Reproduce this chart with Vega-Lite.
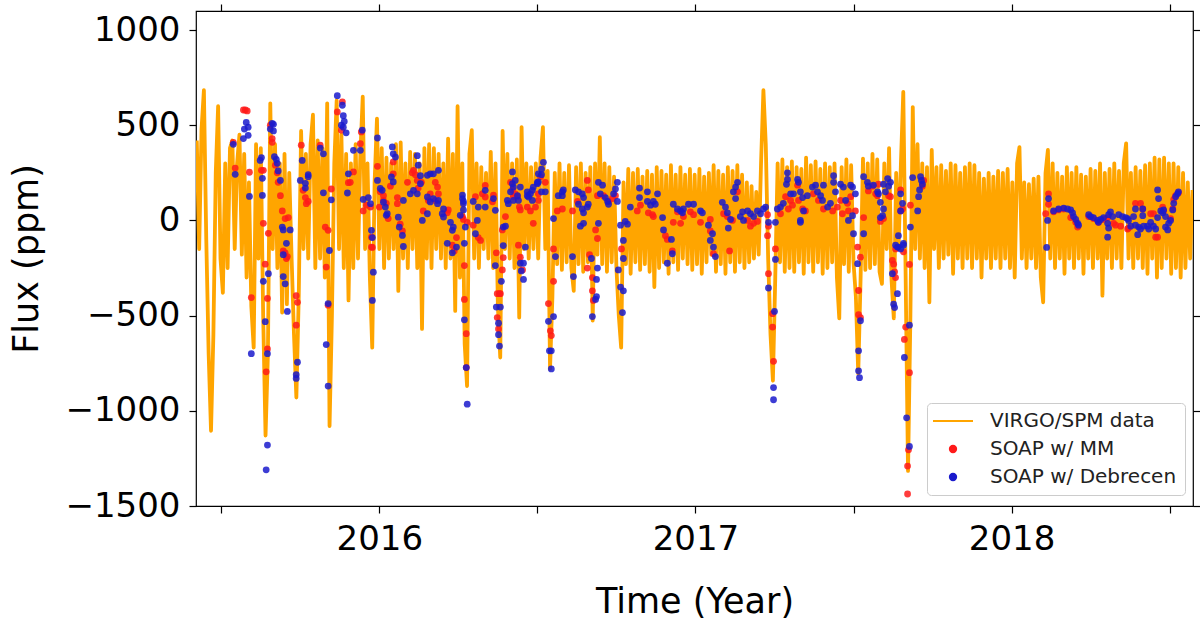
{
  "$schema": "https://vega.github.io/schema/vega-lite/v6.json",
  "width": 997,
  "height": 495,
  "autosize": {"type": "none"},
  "padding": {"left": 196, "top": 11, "right": 7, "bottom": 114},
  "background": "white",
  "config": {
    "font": "DejaVu Sans",
    "view": {"stroke": "black", "strokeWidth": 1.2},
    "axis": {
      "labelFont": "DejaVu Sans", "labelFontSize": 34, "labelColor": "black",
      "titleFont": "DejaVu Sans", "titleFontSize": 35, "titleFontWeight": "normal", "titleColor": "black",
      "tickColor": "black", "tickSize": 7, "tickWidth": 1.2, "domain": false, "grid": false
    },
    "legend": {"labelFont": "DejaVu Sans"}
  },
  "datasets": {
    "virgo": [
      {"t":2015.4225,"f":420},{"t":2015.4300,"f":-150},{"t":2015.4375,"f":480},{"t":2015.4450,"f":684},{"t":2015.4525,"f":-100},{"t":2015.4600,"f":-700},{"t":2015.4675,"f":-1105},{"t":2015.4750,"f":-600},{"t":2015.4825,"f":250},{"t":2015.4900,"f":600},{"t":2015.4975,"f":-200},{"t":2015.5050,"f":-380},{"t":2015.5125,"f":300},{"t":2015.5200,"f":-250},{"t":2015.5275,"f":380},{"t":2015.5350,"f":420},{"t":2015.5425,"f":-150},{"t":2015.5500,"f":300},{"t":2015.5575,"f":450},{"t":2015.5650,"f":-180},{"t":2015.5725,"f":350},{"t":2015.5800,"f":-300},{"t":2015.5875,"f":200},{"t":2015.5950,"f":-450},{"t":2015.6025,"f":-668},{"t":2015.6100,"f":400},{"t":2015.6175,"f":-200},{"t":2015.6250,"f":380},{"t":2015.6325,"f":-500},{"t":2015.6400,"f":-1130},{"t":2015.6475,"f":-700},{"t":2015.6550,"f":615},{"t":2015.6625,"f":-150},{"t":2015.6700,"f":400},{"t":2015.6775,"f":-250},{"t":2015.6850,"f":300},{"t":2015.6925,"f":-484},{"t":2015.7000,"f":350},{"t":2015.7075,"f":-440},{"t":2015.7150,"f":250},{"t":2015.7225,"f":-200},{"t":2015.7300,"f":-600},{"t":2015.7375,"f":-930},{"t":2015.7450,"f":-400},{"t":2015.7525,"f":470},{"t":2015.7600,"f":-150},{"t":2015.7675,"f":350},{"t":2015.7750,"f":-200},{"t":2015.7825,"f":400},{"t":2015.7900,"f":555},{"t":2015.7975,"f":-250},{"t":2015.8050,"f":420},{"t":2015.8125,"f":-200},{"t":2015.8200,"f":380},{"t":2015.8275,"f":-300},{"t":2015.8350,"f":615},{"t":2015.8425,"f":-1080},{"t":2015.8500,"f":-500},{"t":2015.8575,"f":300},{"t":2015.8650,"f":630},{"t":2015.8725,"f":-150},{"t":2015.8800,"f":450},{"t":2015.8875,"f":-250},{"t":2015.8950,"f":350},{"t":2015.9025,"f":-420},{"t":2015.9100,"f":300},{"t":2015.9175,"f":-250},{"t":2015.9250,"f":400},{"t":2015.9325,"f":-200},{"t":2015.9400,"f":350},{"t":2015.9475,"f":650},{"t":2015.9550,"f":-150},{"t":2015.9625,"f":300},{"t":2015.9700,"f":-300},{"t":2015.9775,"f":-668},{"t":2015.9850,"f":200},{"t":2015.9925,"f":535},
      {"t":2016.0000,"f":-150},{"t":2016.0075,"f":380},{"t":2016.0150,"f":-250},{"t":2016.0225,"f":330},{"t":2016.0300,"f":-200},{"t":2016.0375,"f":300},{"t":2016.0450,"f":-150},{"t":2016.0525,"f":400},{"t":2016.0600,"f":-370},{"t":2016.0675,"f":410},{"t":2016.0750,"f":-200},{"t":2016.0825,"f":300},{"t":2016.0900,"f":-250},{"t":2016.0975,"f":360},{"t":2016.1050,"f":-150},{"t":2016.1125,"f":350},{"t":2016.1200,"f":-250},{"t":2016.1275,"f":300},{"t":2016.1350,"f":-570},{"t":2016.1425,"f":380},{"t":2016.1500,"f":-200},{"t":2016.1575,"f":400},{"t":2016.1650,"f":-250},{"t":2016.1725,"f":380},{"t":2016.1800,"f":-150},{"t":2016.1875,"f":350},{"t":2016.1950,"f":-200},{"t":2016.2025,"f":300},{"t":2016.2100,"f":-250},{"t":2016.2175,"f":430},{"t":2016.2250,"f":-200},{"t":2016.2325,"f":350},{"t":2016.2400,"f":-475},{"t":2016.2475,"f":600},{"t":2016.2550,"f":-300},{"t":2016.2625,"f":300},{"t":2016.2700,"f":-650},{"t":2016.2775,"f":-870},{"t":2016.2850,"f":350},{"t":2016.2925,"f":474},{"t":2016.3000,"f":-200},{"t":2016.3075,"f":300},{"t":2016.3150,"f":-250},{"t":2016.3225,"f":280},{"t":2016.3300,"f":-150},{"t":2016.3375,"f":250},{"t":2016.3450,"f":-200},{"t":2016.3525,"f":360},{"t":2016.3600,"f":-250},{"t":2016.3675,"f":300},{"t":2016.3750,"f":-450},{"t":2016.3825,"f":-720},{"t":2016.3900,"f":470},{"t":2016.3975,"f":-150},{"t":2016.4050,"f":350},{"t":2016.4125,"f":-200},{"t":2016.4200,"f":300},{"t":2016.4275,"f":-250},{"t":2016.4350,"f":320},{"t":2016.4425,"f":-510},{"t":2016.4500,"f":490},{"t":2016.4575,"f":-150},{"t":2016.4650,"f":300},{"t":2016.4725,"f":-200},{"t":2016.4800,"f":280},{"t":2016.4875,"f":-150},{"t":2016.4950,"f":300},{"t":2016.5025,"f":-200},{"t":2016.5100,"f":330},{"t":2016.5175,"f":490},{"t":2016.5250,"f":-150},{"t":2016.5325,"f":260},{"t":2016.5400,"f":-780},{"t":2016.5475,"f":-400},{"t":2016.5550,"f":250},{"t":2016.5625,"f":-230},{"t":2016.5700,"f":300},{"t":2016.5775,"f":-260},{"t":2016.5850,"f":250},{"t":2016.5925,"f":-220},{"t":2016.6000,"f":290},{"t":2016.6075,"f":-250},{"t":2016.6150,"f":-370},{"t":2016.6225,"f":280},{"t":2016.6300,"f":-230},{"t":2016.6375,"f":300},{"t":2016.6450,"f":-270},{"t":2016.6525,"f":250},{"t":2016.6600,"f":-220},{"t":2016.6675,"f":280},{"t":2016.6750,"f":-526},{"t":2016.6825,"f":300},{"t":2016.6900,"f":-180},{"t":2016.6975,"f":437},{"t":2016.7050,"f":-230},{"t":2016.7125,"f":300},{"t":2016.7200,"f":-270},{"t":2016.7275,"f":280},{"t":2016.7350,"f":-220},{"t":2016.7425,"f":230},{"t":2016.7500,"f":-250},{"t":2016.7575,"f":-500},{"t":2016.7650,"f":-668},{"t":2016.7725,"f":200},{"t":2016.7800,"f":-230},{"t":2016.7875,"f":270},{"t":2016.7950,"f":-280},{"t":2016.8025,"f":250},{"t":2016.8100,"f":-220},{"t":2016.8175,"f":270},{"t":2016.8250,"f":-260},{"t":2016.8325,"f":230},{"t":2016.8400,"f":-230},{"t":2016.8475,"f":260},{"t":2016.8550,"f":-270},{"t":2016.8625,"f":240},{"t":2016.8700,"f":-350},{"t":2016.8775,"f":280},{"t":2016.8850,"f":-250},{"t":2016.8925,"f":260},{"t":2016.9000,"f":-220},{"t":2016.9075,"f":240},{"t":2016.9150,"f":-280},{"t":2016.9225,"f":290},{"t":2016.9300,"f":-220},{"t":2016.9375,"f":240},{"t":2016.9450,"f":-260},{"t":2016.9525,"f":280},{"t":2016.9600,"f":-200},{"t":2016.9675,"f":240},{"t":2016.9750,"f":-230},{"t":2016.9825,"f":270},{"t":2016.9900,"f":-260},{"t":2016.9975,"f":240},
      {"t":2017.0050,"f":-230},{"t":2017.0125,"f":270},{"t":2017.0200,"f":-280},{"t":2017.0275,"f":230},{"t":2017.0350,"f":-220},{"t":2017.0425,"f":250},{"t":2017.0500,"f":-180},{"t":2017.0575,"f":290},{"t":2017.0650,"f":-270},{"t":2017.0725,"f":260},{"t":2017.0800,"f":-230},{"t":2017.0875,"f":240},{"t":2017.0950,"f":-280},{"t":2017.1025,"f":280},{"t":2017.1100,"f":-220},{"t":2017.1175,"f":260},{"t":2017.1250,"f":-270},{"t":2017.1325,"f":290},{"t":2017.1400,"f":-220},{"t":2017.1475,"f":240},{"t":2017.1550,"f":-250},{"t":2017.1625,"f":200},{"t":2017.1700,"f":-220},{"t":2017.1775,"f":180},{"t":2017.1850,"f":-200},{"t":2017.1925,"f":150},{"t":2017.2000,"f":-180},{"t":2017.2075,"f":300},{"t":2017.2150,"f":684},{"t":2017.2225,"f":400},{"t":2017.2300,"f":-200},{"t":2017.2375,"f":-600},{"t":2017.2450,"f":-842},{"t":2017.2525,"f":-300},{"t":2017.2600,"f":300},{"t":2017.2675,"f":-220},{"t":2017.2750,"f":320},{"t":2017.2825,"f":-270},{"t":2017.2900,"f":280},{"t":2017.2975,"f":-250},{"t":2017.3050,"f":310},{"t":2017.3125,"f":-270},{"t":2017.3200,"f":280},{"t":2017.3275,"f":-220},{"t":2017.3350,"f":270},{"t":2017.3425,"f":-280},{"t":2017.3500,"f":330},{"t":2017.3575,"f":-220},{"t":2017.3650,"f":290},{"t":2017.3725,"f":-270},{"t":2017.3800,"f":310},{"t":2017.3875,"f":-220},{"t":2017.3950,"f":270},{"t":2017.4025,"f":-280},{"t":2017.4100,"f":300},{"t":2017.4175,"f":-250},{"t":2017.4250,"f":280},{"t":2017.4325,"f":-220},{"t":2017.4400,"f":300},{"t":2017.4475,"f":-300},{"t":2017.4550,"f":-515},{"t":2017.4625,"f":280},{"t":2017.4700,"f":-230},{"t":2017.4775,"f":320},{"t":2017.4850,"f":-270},{"t":2017.4925,"f":290},{"t":2017.5000,"f":-220},{"t":2017.5075,"f":-400},{"t":2017.5150,"f":-805},{"t":2017.5225,"f":-300},{"t":2017.5300,"f":325},{"t":2017.5375,"f":-260},{"t":2017.5450,"f":300},{"t":2017.5525,"f":-250},{"t":2017.5600,"f":350},{"t":2017.5675,"f":-230},{"t":2017.5750,"f":320},{"t":2017.5825,"f":-270},{"t":2017.5900,"f":-333},{"t":2017.5975,"f":300},{"t":2017.6050,"f":-150},{"t":2017.6125,"f":380},{"t":2017.6200,"f":-300},{"t":2017.6275,"f":-515},{"t":2017.6350,"f":250},{"t":2017.6425,"f":-150},{"t":2017.6500,"f":300},{"t":2017.6575,"f":675},{"t":2017.6650,"f":-300},{"t":2017.6725,"f":-1316},{"t":2017.6800,"f":-500},{"t":2017.6875,"f":595},{"t":2017.6950,"f":-150},{"t":2017.7025,"f":400},{"t":2017.7100,"f":-200},{"t":2017.7175,"f":300},{"t":2017.7250,"f":-250},{"t":2017.7325,"f":280},{"t":2017.7400,"f":-430},{"t":2017.7475,"f":370},{"t":2017.7550,"f":-150},{"t":2017.7625,"f":280},{"t":2017.7700,"f":-250},{"t":2017.7775,"f":290},{"t":2017.7850,"f":-200},{"t":2017.7925,"f":260},{"t":2017.8000,"f":-180},{"t":2017.8075,"f":300},{"t":2017.8150,"f":-280},{"t":2017.8225,"f":290},{"t":2017.8300,"f":-200},{"t":2017.8375,"f":250},{"t":2017.8450,"f":-250},{"t":2017.8525,"f":280},{"t":2017.8600,"f":-200},{"t":2017.8675,"f":300},{"t":2017.8750,"f":-250},{"t":2017.8825,"f":290},{"t":2017.8900,"f":-200},{"t":2017.8975,"f":250},{"t":2017.9050,"f":-300},{"t":2017.9125,"f":220},{"t":2017.9200,"f":-200},{"t":2017.9275,"f":250},{"t":2017.9350,"f":-250},{"t":2017.9425,"f":230},{"t":2017.9500,"f":-200},{"t":2017.9575,"f":260},{"t":2017.9650,"f":-250},{"t":2017.9725,"f":250},{"t":2017.9800,"f":-200},{"t":2017.9875,"f":270},{"t":2017.9950,"f":-250},
      {"t":2018.0025,"f":200},{"t":2018.0100,"f":-300},{"t":2018.0175,"f":300},{"t":2018.0250,"f":385},{"t":2018.0325,"f":-200},{"t":2018.0400,"f":200},{"t":2018.0475,"f":-250},{"t":2018.0550,"f":190},{"t":2018.0625,"f":-200},{"t":2018.0700,"f":220},{"t":2018.0775,"f":-250},{"t":2018.0850,"f":230},{"t":2018.0925,"f":-300},{"t":2018.1000,"f":-430},{"t":2018.1075,"f":250},{"t":2018.1150,"f":370},{"t":2018.1225,"f":-200},{"t":2018.1300,"f":300},{"t":2018.1375,"f":-250},{"t":2018.1450,"f":250},{"t":2018.1525,"f":-200},{"t":2018.1600,"f":230},{"t":2018.1675,"f":-280},{"t":2018.1750,"f":280},{"t":2018.1825,"f":-200},{"t":2018.1900,"f":250},{"t":2018.1975,"f":-250},{"t":2018.2050,"f":280},{"t":2018.2125,"f":-200},{"t":2018.2200,"f":240},{"t":2018.2275,"f":-280},{"t":2018.2350,"f":230},{"t":2018.2425,"f":-200},{"t":2018.2500,"f":270},{"t":2018.2575,"f":-250},{"t":2018.2650,"f":260},{"t":2018.2725,"f":-200},{"t":2018.2800,"f":300},{"t":2018.2875,"f":-395},{"t":2018.2950,"f":250},{"t":2018.3025,"f":-200},{"t":2018.3100,"f":270},{"t":2018.3175,"f":-250},{"t":2018.3250,"f":300},{"t":2018.3325,"f":-200},{"t":2018.3400,"f":260},{"t":2018.3475,"f":-250},{"t":2018.3550,"f":300},{"t":2018.3625,"f":405},{"t":2018.3700,"f":-200},{"t":2018.3775,"f":250},{"t":2018.3850,"f":-250},{"t":2018.3925,"f":280},{"t":2018.4000,"f":-200},{"t":2018.4075,"f":260},{"t":2018.4150,"f":-250},{"t":2018.4225,"f":290},{"t":2018.4300,"f":-280},{"t":2018.4375,"f":300},{"t":2018.4450,"f":-200},{"t":2018.4525,"f":330},{"t":2018.4600,"f":-300},{"t":2018.4675,"f":320},{"t":2018.4750,"f":-250},{"t":2018.4825,"f":330},{"t":2018.4900,"f":-200},{"t":2018.4975,"f":300},{"t":2018.5050,"f":-280},{"t":2018.5125,"f":300},{"t":2018.5200,"f":-250},{"t":2018.5275,"f":280},{"t":2018.5350,"f":-300},{"t":2018.5425,"f":250},{"t":2018.5500,"f":-250},{"t":2018.5575,"f":200},{"t":2018.5650,"f":-200},{"t":2018.5725,"f":160}
    ],
    "mm": [
      {"t":2015.538,"f":410},{"t":2015.544,"f":275},{"t":2015.570,"f":580},{"t":2015.576,"f":580},{"t":2015.582,"f":575},{"t":2015.589,"f":253},{"t":2015.627,"f":263},{"t":2015.633,"f":263},{"t":2015.633,"f":-15},{"t":2015.649,"f":-68},{"t":2015.655,"f":500},{"t":2015.661,"f":430},{"t":2015.661,"f":410},{"t":2015.671,"f":290},{"t":2015.677,"f":250},{"t":2015.680,"f":200},{"t":2015.687,"f":130},{"t":2015.693,"f":50},{"t":2015.702,"f":10},{"t":2015.712,"f":15},{"t":2015.702,"f":-170},{"t":2015.706,"f":-200},{"t":2015.595,"f":-405},{"t":2015.639,"f":-230},{"t":2015.646,"f":-410},{"t":2015.646,"f":-675},{"t":2015.642,"f":-795},{"t":2015.696,"f":-160},{"t":2015.709,"f":-190},{"t":2015.737,"f":-395},{"t":2015.741,"f":-430},{"t":2015.737,"f":-550},{"t":2015.753,"f":395},{"t":2015.759,"f":158},{"t":2015.766,"f":120},{"t":2015.775,"f":100},{"t":2015.769,"f":88},{"t":2015.813,"f":395},{"t":2015.829,"f":-35},{"t":2015.838,"f":-52},{"t":2015.832,"f":-245},{"t":2015.838,"f":-445},{"t":2015.848,"f":165},{"t":2015.867,"f":570},{"t":2015.883,"f":623},{"t":2015.880,"f":474},{"t":2015.902,"f":198},{"t":2015.908,"f":200},{"t":2015.918,"f":255},{"t":2015.940,"f":403},{"t":2015.943,"f":465},{"t":2015.949,"f":50},{"t":2015.959,"f":80},{"t":2015.972,"f":70},{"t":2015.975,"f":-140},{"t":2015.975,"f":-88},{"t":2015.978,"f":-142},{"t":2015.994,"f":284},{"t":2016.003,"f":150},{"t":2016.013,"f":130},{"t":2016.000,"f":70},{"t":2016.013,"f":105},{"t":2016.028,"f":10},{"t":2016.022,"f":90},{"t":2016.044,"f":307},{"t":2016.044,"f":245},{"t":2016.035,"f":180},{"t":2016.057,"f":120},{"t":2016.057,"f":88},{"t":2016.066,"f":-20},{"t":2016.073,"f":-55},{"t":2016.089,"f":200},{"t":2016.104,"f":250},{"t":2016.108,"f":263},{"t":2016.114,"f":240},{"t":2016.120,"f":210},{"t":2016.123,"f":170},{"t":2016.133,"f":200},{"t":2016.139,"f":50},{"t":2016.155,"f":105},{"t":2016.161,"f":140},{"t":2016.177,"f":200},{"t":2016.184,"f":175},{"t":2016.187,"f":140},{"t":2016.177,"f":105},{"t":2016.215,"f":40},{"t":2016.218,"f":55},{"t":2016.231,"f":-130},{"t":2016.237,"f":-160},{"t":2016.244,"f":-90},{"t":2016.263,"f":20},{"t":2016.266,"f":5},{"t":2016.278,"f":-10},{"t":2016.269,"f":-237},{"t":2016.269,"f":-415},{"t":2016.275,"f":-595},{"t":2016.275,"f":-773},{"t":2016.304,"f":125},{"t":2016.297,"f":-25},{"t":2016.313,"f":-90},{"t":2016.320,"f":-105},{"t":2016.335,"f":184},{"t":2016.335,"f":123},{"t":2016.326,"f":140},{"t":2016.361,"f":133},{"t":2016.358,"f":98},{"t":2016.389,"f":-50},{"t":2016.399,"f":20},{"t":2016.415,"f":200},{"t":2016.421,"f":160},{"t":2016.424,"f":125},{"t":2016.430,"f":140},{"t":2016.437,"f":125},{"t":2016.443,"f":70},{"t":2016.446,"f":55},{"t":2016.468,"f":70},{"t":2016.478,"f":50},{"t":2016.494,"f":70},{"t":2016.503,"f":105},{"t":2016.487,"f":-15},{"t":2016.370,"f":-170},{"t":2016.373,"f":-385},{"t":2016.380,"f":-385},{"t":2016.383,"f":-385},{"t":2016.373,"f":-510},{"t":2016.377,"f":-570},{"t":2016.389,"f":-260},{"t":2016.392,"f":-195},{"t":2016.440,"f":-130},{"t":2016.446,"f":-193},{"t":2016.453,"f":-260},{"t":2016.510,"f":230},{"t":2016.525,"f":200},{"t":2016.503,"f":140},{"t":2016.551,"f":-150},{"t":2016.551,"f":-320},{"t":2016.535,"f":-437},{"t":2016.541,"f":-580},{"t":2016.544,"f":-605},{"t":2016.563,"f":50},{"t":2016.579,"f":60},{"t":2016.611,"f":50},{"t":2016.627,"f":100},{"t":2016.658,"f":210},{"t":2016.661,"f":160},{"t":2016.665,"f":-180},{"t":2016.658,"f":-250},{"t":2016.674,"f":-300},{"t":2016.674,"f":-370},{"t":2016.677,"f":-420},{"t":2016.690,"f":130},{"t":2016.709,"f":130},{"t":2016.725,"f":100},{"t":2016.737,"f":115},{"t":2016.747,"f":130},{"t":2016.684,"f":-50},{"t":2016.690,"f":-95},{"t":2016.766,"f":-150},{"t":2016.816,"f":50},{"t":2016.851,"f":40},{"t":2016.864,"f":30},{"t":2016.867,"f":20},{"t":2016.826,"f":80},{"t":2016.905,"f":-80},{"t":2016.911,"f":-100},{"t":2016.927,"f":-160},{"t":2016.943,"f":45},{"t":2016.962,"f":20},{"t":2016.984,"f":45},{"t":2016.994,"f":30},{"t":2016.930,"f":-10},{"t":2016.953,"f":-15},{"t":2017.016,"f":-10},{"t":2017.047,"f":5},{"t":2017.047,"f":-55},{"t":2017.057,"f":-175},{"t":2017.108,"f":-160},{"t":2017.089,"f":35},{"t":2017.101,"f":20},{"t":2017.133,"f":150},{"t":2017.117,"f":0},{"t":2017.165,"f":0},{"t":2017.174,"f":-30},{"t":2017.184,"f":-15},{"t":2017.196,"f":-5},{"t":2017.228,"f":30},{"t":2017.231,"f":-30},{"t":2017.228,"f":-80},{"t":2017.231,"f":-280},{"t":2017.253,"f":-150},{"t":2017.244,"f":-490},{"t":2017.244,"f":-560},{"t":2017.247,"f":-740},{"t":2017.269,"f":35},{"t":2017.285,"f":125},{"t":2017.301,"f":105},{"t":2017.307,"f":80},{"t":2017.294,"f":60},{"t":2017.323,"f":185},{"t":2017.326,"f":105},{"t":2017.339,"f":60},{"t":2017.348,"f":50},{"t":2017.373,"f":140},{"t":2017.389,"f":105},{"t":2017.405,"f":60},{"t":2017.434,"f":50},{"t":2017.449,"f":70},{"t":2017.459,"f":105},{"t":2017.465,"f":35},{"t":2017.481,"f":90},{"t":2017.484,"f":50},{"t":2017.491,"f":125},{"t":2017.506,"f":50},{"t":2017.560,"f":180},{"t":2017.570,"f":140},{"t":2017.576,"f":130},{"t":2017.547,"f":155},{"t":2017.532,"f":15},{"t":2017.579,"f":190},{"t":2017.585,"f":-5},{"t":2017.595,"f":10},{"t":2017.611,"f":130},{"t":2017.617,"f":125},{"t":2017.633,"f":-150},{"t":2017.658,"f":-165},{"t":2017.623,"f":-210},{"t":2017.627,"f":-230},{"t":2017.630,"f":-270},{"t":2017.633,"f":-300},{"t":2017.649,"f":160},{"t":2017.655,"f":60},{"t":2017.649,"f":50},{"t":2017.680,"f":80},{"t":2017.718,"f":180},{"t":2017.722,"f":210},{"t":2017.677,"f":-231},{"t":2017.665,"f":-560},{"t":2017.661,"f":-625},{"t":2017.677,"f":-800},{"t":2017.674,"f":-1205},{"t":2017.671,"f":-1290},{"t":2017.671,"f":-1437},{"t":2017.513,"f":-140},{"t":2017.522,"f":-193},{"t":2017.516,"f":-368},{"t":2017.516,"f":-495},{"t":2017.522,"f":-510},{"t":2018.117,"f":140},{"t":2018.117,"f":85},{"t":2018.108,"f":35},{"t":2018.133,"f":45},{"t":2018.149,"f":55},{"t":2018.165,"f":60},{"t":2018.187,"f":15},{"t":2018.203,"f":-10},{"t":2018.209,"f":-35},{"t":2018.244,"f":20},{"t":2018.259,"f":10},{"t":2018.275,"f":-10},{"t":2018.291,"f":5},{"t":2018.304,"f":15},{"t":2018.323,"f":-15},{"t":2018.329,"f":-25},{"t":2018.345,"f":-30},{"t":2018.367,"f":-45},{"t":2018.370,"f":-40},{"t":2018.392,"f":90},{"t":2018.408,"f":90},{"t":2018.415,"f":60},{"t":2018.440,"f":35},{"t":2018.449,"f":35},{"t":2018.456,"f":-88},{"t":2018.462,"f":-88},{"t":2018.478,"f":70},{"t":2018.481,"f":50},{"t":2018.503,"f":10},{"t":2018.510,"f":60},{"t":2018.513,"f":110},{"t":2018.519,"f":130},{"t":2018.528,"f":145}
    ],
    "deb": [
      {"t":2015.538,"f":400},{"t":2015.544,"f":242},{"t":2015.573,"f":480},{"t":2015.579,"f":515},{"t":2015.585,"f":490},{"t":2015.570,"f":430},{"t":2015.585,"f":447},{"t":2015.589,"f":126},{"t":2015.623,"f":315},{"t":2015.627,"f":330},{"t":2015.630,"f":221},{"t":2015.630,"f":131},{"t":2015.655,"f":480},{"t":2015.661,"f":510},{"t":2015.665,"f":505},{"t":2015.665,"f":470},{"t":2015.668,"f":335},{"t":2015.674,"f":320},{"t":2015.677,"f":300},{"t":2015.680,"f":260},{"t":2015.687,"f":210},{"t":2015.693,"f":-35},{"t":2015.696,"f":-50},{"t":2015.718,"f":-50},{"t":2015.706,"f":-120},{"t":2015.595,"f":-700},{"t":2015.633,"f":-320},{"t":2015.649,"f":-280},{"t":2015.639,"f":-532},{"t":2015.646,"f":-700},{"t":2015.646,"f":-1180},{"t":2015.642,"f":-1310},{"t":2015.696,"f":-180},{"t":2015.696,"f":-295},{"t":2015.702,"f":-333},{"t":2015.709,"f":-478},{"t":2015.741,"f":-745},{"t":2015.737,"f":-810},{"t":2015.737,"f":-830},{"t":2015.756,"f":315},{"t":2015.775,"f":240},{"t":2015.750,"f":210},{"t":2015.766,"f":195},{"t":2015.775,"f":230},{"t":2015.766,"f":170},{"t":2015.813,"f":380},{"t":2015.823,"f":350},{"t":2015.823,"f":145},{"t":2015.842,"f":-158},{"t":2015.848,"f":108},{"t":2015.838,"f":-437},{"t":2015.832,"f":-652},{"t":2015.838,"f":-870},{"t":2015.867,"f":655},{"t":2015.883,"f":605},{"t":2015.886,"f":550},{"t":2015.880,"f":500},{"t":2015.889,"f":520},{"t":2015.886,"f":490},{"t":2015.895,"f":460},{"t":2015.902,"f":245},{"t":2015.899,"f":144},{"t":2015.918,"f":368},{"t":2015.940,"f":368},{"t":2015.946,"f":474},{"t":2015.949,"f":110},{"t":2015.965,"f":120},{"t":2015.972,"f":88},{"t":2015.978,"f":-90},{"t":2015.975,"f":-52},{"t":2015.978,"f":-420},{"t":2015.981,"f":-272},{"t":2015.994,"f":433},{"t":2015.994,"f":210},{"t":2016.003,"f":168},{"t":2016.009,"f":158},{"t":2016.013,"f":96},{"t":2016.019,"f":70},{"t":2016.025,"f":35},{"t":2016.022,"f":27},{"t":2016.041,"f":386},{"t":2016.044,"f":350},{"t":2016.051,"f":333},{"t":2016.038,"f":228},{"t":2016.044,"f":202},{"t":2016.060,"f":17},{"t":2016.063,"f":-35},{"t":2016.073,"f":-79},{"t":2016.076,"f":-137},{"t":2016.076,"f":105},{"t":2016.098,"f":140},{"t":2016.108,"f":158},{"t":2016.120,"f":340},{"t":2016.123,"f":290},{"t":2016.130,"f":193},{"t":2016.130,"f":235},{"t":2016.120,"f":140},{"t":2016.136,"f":0},{"t":2016.152,"f":35},{"t":2016.152,"f":237},{"t":2016.161,"f":245},{"t":2016.171,"f":245},{"t":2016.187,"f":263},{"t":2016.152,"f":123},{"t":2016.161,"f":97},{"t":2016.171,"f":115},{"t":2016.184,"f":88},{"t":2016.187,"f":105},{"t":2016.203,"f":60},{"t":2016.199,"f":35},{"t":2016.203,"f":18},{"t":2016.225,"f":-10},{"t":2016.234,"f":-35},{"t":2016.231,"f":-52},{"t":2016.215,"f":-120},{"t":2016.231,"f":-170},{"t":2016.244,"f":-140},{"t":2016.263,"f":115},{"t":2016.266,"f":100},{"t":2016.266,"f":88},{"t":2016.263,"f":133},{"t":2016.266,"f":55},{"t":2016.256,"f":27},{"t":2016.272,"f":-35},{"t":2016.269,"f":-120},{"t":2016.269,"f":-522},{"t":2016.275,"f":-773},{"t":2016.278,"f":-965},{"t":2016.297,"f":100},{"t":2016.310,"f":0},{"t":2016.313,"f":70},{"t":2016.304,"f":-70},{"t":2016.335,"f":158},{"t":2016.335,"f":70},{"t":2016.361,"f":115},{"t":2016.367,"f":53},{"t":2016.392,"f":-35},{"t":2016.399,"f":-30},{"t":2016.405,"f":105},{"t":2016.408,"f":88},{"t":2016.415,"f":150},{"t":2016.421,"f":193},{"t":2016.424,"f":175},{"t":2016.430,"f":210},{"t":2016.421,"f":255},{"t":2016.424,"f":105},{"t":2016.437,"f":130},{"t":2016.440,"f":105},{"t":2016.367,"f":-237},{"t":2016.370,"f":-455},{"t":2016.383,"f":-455},{"t":2016.377,"f":-540},{"t":2016.377,"f":-600},{"t":2016.380,"f":-660},{"t":2016.386,"f":-320},{"t":2016.392,"f":-132},{"t":2016.446,"f":-225},{"t":2016.456,"f":-225},{"t":2016.449,"f":-265},{"t":2016.456,"f":-310},{"t":2016.462,"f":-140},{"t":2016.472,"f":123},{"t":2016.478,"f":140},{"t":2016.484,"f":158},{"t":2016.487,"f":175},{"t":2016.500,"f":193},{"t":2016.503,"f":202},{"t":2016.503,"f":245},{"t":2016.446,"f":175},{"t":2016.468,"f":150},{"t":2016.468,"f":130},{"t":2016.484,"f":105},{"t":2016.500,"f":200},{"t":2016.513,"f":240},{"t":2016.513,"f":270},{"t":2016.519,"f":305},{"t":2016.525,"f":150},{"t":2016.513,"f":150},{"t":2016.551,"f":10},{"t":2016.557,"f":-190},{"t":2016.535,"f":-530},{"t":2016.551,"f":-505},{"t":2016.538,"f":-685},{"t":2016.544,"f":-685},{"t":2016.544,"f":-780},{"t":2016.566,"f":130},{"t":2016.579,"f":130},{"t":2016.579,"f":150},{"t":2016.582,"f":160},{"t":2016.611,"f":-190},{"t":2016.614,"f":-295},{"t":2016.620,"f":160},{"t":2016.630,"f":150},{"t":2016.642,"f":140},{"t":2016.646,"f":120},{"t":2016.630,"f":85},{"t":2016.642,"f":60},{"t":2016.646,"f":40},{"t":2016.658,"f":70},{"t":2016.661,"f":85},{"t":2016.636,"f":-30},{"t":2016.646,"f":-15},{"t":2016.671,"f":-200},{"t":2016.690,"f":-250},{"t":2016.687,"f":-310},{"t":2016.687,"f":-400},{"t":2016.684,"f":-415},{"t":2016.674,"f":-505},{"t":2016.693,"f":200},{"t":2016.706,"f":185},{"t":2016.699,"f":140},{"t":2016.715,"f":120},{"t":2016.722,"f":100},{"t":2016.725,"f":85},{"t":2016.741,"f":140},{"t":2016.753,"f":200},{"t":2016.747,"f":165},{"t":2016.753,"f":100},{"t":2016.693,"f":-15},{"t":2016.763,"f":-25},{"t":2016.778,"f":-5},{"t":2016.785,"f":-20},{"t":2016.772,"f":-105},{"t":2016.756,"f":-260},{"t":2016.763,"f":-350},{"t":2016.772,"f":-370},{"t":2016.769,"f":-484},{"t":2016.772,"f":-200},{"t":2016.794,"f":70},{"t":2016.823,"f":170},{"t":2016.823,"f":120},{"t":2016.848,"f":150},{"t":2016.848,"f":100},{"t":2016.858,"f":80},{"t":2016.867,"f":100},{"t":2016.880,"f":140},{"t":2016.873,"f":85},{"t":2016.896,"f":15},{"t":2016.899,"f":-50},{"t":2016.924,"f":-100},{"t":2016.911,"f":-225},{"t":2016.927,"f":-175},{"t":2016.930,"f":85},{"t":2016.943,"f":60},{"t":2016.953,"f":50},{"t":2016.959,"f":40},{"t":2016.962,"f":60},{"t":2016.978,"f":85},{"t":2016.994,"f":85},{"t":2017.016,"f":50},{"t":2017.022,"f":40},{"t":2017.041,"f":-25},{"t":2017.054,"f":-70},{"t":2017.047,"f":-105},{"t":2017.057,"f":-140},{"t":2017.063,"f":-190},{"t":2017.085,"f":95},{"t":2017.095,"f":70},{"t":2017.120,"f":150},{"t":2017.127,"f":115},{"t":2017.133,"f":200},{"t":2017.127,"f":175},{"t":2017.101,"f":40},{"t":2017.111,"f":5},{"t":2017.104,"f":-40},{"t":2017.149,"f":45},{"t":2017.142,"f":20},{"t":2017.152,"f":0},{"t":2017.165,"f":50},{"t":2017.174,"f":35},{"t":2017.184,"f":20},{"t":2017.196,"f":50},{"t":2017.206,"f":35},{"t":2017.215,"f":60},{"t":2017.222,"f":70},{"t":2017.231,"f":-10},{"t":2017.231,"f":-355},{"t":2017.253,"f":-205},{"t":2017.250,"f":-478},{"t":2017.247,"f":-878},{"t":2017.247,"f":-942},{"t":2017.253,"f":-10},{"t":2017.259,"f":60},{"t":2017.269,"f":70},{"t":2017.278,"f":90},{"t":2017.288,"f":190},{"t":2017.291,"f":250},{"t":2017.291,"f":215},{"t":2017.301,"f":140},{"t":2017.310,"f":140},{"t":2017.326,"f":200},{"t":2017.323,"f":215},{"t":2017.332,"f":150},{"t":2017.339,"f":120},{"t":2017.342,"f":50},{"t":2017.332,"f":0},{"t":2017.332,"f":-10},{"t":2017.354,"f":130},{"t":2017.370,"f":175},{"t":2017.380,"f":185},{"t":2017.386,"f":150},{"t":2017.396,"f":130},{"t":2017.402,"f":105},{"t":2017.405,"f":185},{"t":2017.418,"f":70},{"t":2017.427,"f":90},{"t":2017.437,"f":235},{"t":2017.437,"f":200},{"t":2017.443,"f":150},{"t":2017.459,"f":190},{"t":2017.468,"f":175},{"t":2017.475,"f":105},{"t":2017.491,"f":185},{"t":2017.497,"f":175},{"t":2017.506,"f":140},{"t":2017.484,"f":0},{"t":2017.497,"f":25},{"t":2017.500,"f":-70},{"t":2017.513,"f":-227},{"t":2017.522,"f":-527},{"t":2017.516,"f":-685},{"t":2017.516,"f":-790},{"t":2017.519,"f":-826},{"t":2017.532,"f":230},{"t":2017.544,"f":200},{"t":2017.547,"f":180},{"t":2017.563,"f":185},{"t":2017.576,"f":150},{"t":2017.579,"f":140},{"t":2017.595,"f":190},{"t":2017.601,"f":150},{"t":2017.585,"f":95},{"t":2017.595,"f":60},{"t":2017.592,"f":25},{"t":2017.585,"f":15},{"t":2017.608,"f":220},{"t":2017.617,"f":200},{"t":2017.611,"f":180},{"t":2017.532,"f":-70},{"t":2017.642,"f":-80},{"t":2017.649,"f":-150},{"t":2017.639,"f":-140},{"t":2017.658,"f":-120},{"t":2017.649,"f":140},{"t":2017.655,"f":90},{"t":2017.649,"f":50},{"t":2017.680,"f":-35},{"t":2017.687,"f":225},{"t":2017.703,"f":50},{"t":2017.706,"f":125},{"t":2017.709,"f":160},{"t":2017.712,"f":230},{"t":2017.718,"f":190},{"t":2017.715,"f":210},{"t":2017.623,"f":-280},{"t":2017.639,"f":-385},{"t":2017.627,"f":-440},{"t":2017.630,"f":-458},{"t":2017.633,"f":-130},{"t":2017.642,"f":-140},{"t":2017.658,"f":-130},{"t":2017.677,"f":-550},{"t":2017.661,"f":-720},{"t":2017.668,"f":-1037},{"t":2017.677,"f":-1187},{"t":2018.111,"f":-142},{"t":2018.117,"f":115},{"t":2018.114,"f":0},{"t":2018.133,"f":50},{"t":2018.149,"f":60},{"t":2018.165,"f":65},{"t":2018.177,"f":60},{"t":2018.187,"f":55},{"t":2018.193,"f":40},{"t":2018.196,"f":20},{"t":2018.203,"f":5},{"t":2018.209,"f":-15},{"t":2018.212,"f":-25},{"t":2018.244,"f":30},{"t":2018.250,"f":20},{"t":2018.259,"f":15},{"t":2018.272,"f":0},{"t":2018.275,"f":-10},{"t":2018.282,"f":5},{"t":2018.291,"f":15},{"t":2018.307,"f":30},{"t":2018.313,"f":45},{"t":2018.320,"f":20},{"t":2018.304,"f":-88},{"t":2018.304,"f":-15},{"t":2018.307,"f":-40},{"t":2018.339,"f":30},{"t":2018.351,"f":20},{"t":2018.361,"f":15},{"t":2018.367,"f":10},{"t":2018.370,"f":0},{"t":2018.377,"f":-30},{"t":2018.386,"f":20},{"t":2018.392,"f":-25},{"t":2018.399,"f":-75},{"t":2018.402,"f":-35},{"t":2018.408,"f":-45},{"t":2018.392,"f":60},{"t":2018.415,"f":60},{"t":2018.415,"f":25},{"t":2018.418,"f":-30},{"t":2018.430,"f":-30},{"t":2018.434,"f":-45},{"t":2018.440,"f":-10},{"t":2018.449,"f":-30},{"t":2018.456,"f":-45},{"t":2018.462,"f":15},{"t":2018.462,"f":160},{"t":2018.465,"f":115},{"t":2018.472,"f":50},{"t":2018.478,"f":40},{"t":2018.481,"f":55},{"t":2018.487,"f":20},{"t":2018.487,"f":-35},{"t":2018.494,"f":-50},{"t":2018.497,"f":-15},{"t":2018.503,"f":0},{"t":2018.510,"f":55},{"t":2018.513,"f":90},{"t":2018.519,"f":125},{"t":2018.525,"f":140},{"t":2018.528,"f":150}
    ]
  },
  "resolve": {"axis": {"x": "independent", "y": "independent"}},
  "layer": [
    {
      "data": {"name": "virgo"},
      "mark": {"type": "line", "strokeWidth": 3.8, "strokeJoin": "round", "clip": true},
      "encoding": {
        "x": {"field": "t", "type": "quantitative",
          "scale": {"domain": [2015.42, 2018.574], "nice": false, "zero": false},
          "axis": {"orient": "bottom", "title": "Time (Year)", "values": [2015.5, 2016, 2016.5, 2017, 2017.5, 2018, 2018.5],
            "labelExpr": "datum.value % 1 === 0 ? format(datum.value, 'd') : ''", "labelPadding": 9, "titlePadding": 28, "labelFlush": false, "labelOverlap": false}},
        "y": {"field": "f", "type": "quantitative",
          "scale": {"domain": [-1500, 1100], "nice": false, "zero": false},
          "axis": {"orient": "left", "title": "Flux (ppm)", "values": [-1500, -1000, -500, 0, 500, 1000], "format": "d", "labelPadding": 9, "titlePadding": 20}},
        "color": {"datum": "VIRGO/SPM data",
          "scale": {"domain": ["VIRGO/SPM data", "SOAP w/ MM", "SOAP w/ Debrecen"], "range": ["#FFA500", "#ff1a1a", "#1a1acc"]},
          "legend": {"orient": "none", "legendX": 731, "legendY": 392, "title": null, "labelFontSize": 20, "labelColor": "#222222", "labelLimit": 400,
            "symbolSize": 1600, "symbolStrokeWidth": 2, "symbolOffset": 8, "labelOffset": 27, "rowPadding": 8, "padding": 8,
            "fillColor": "rgba(255,255,255,0.8)", "strokeColor": "#cccccc", "cornerRadius": 4,
            "encode": {"symbols": {"update": {
              "shape": {"signal": "datum.value === 'VIRGO/SPM data' ? 'stroke' : 'circle'"},
              "size": {"signal": "datum.value === 'VIRGO/SPM data' ? 1600 : 40"},
              "stroke": {"signal": "datum.value === 'VIRGO/SPM data' ? '#FFA500' : 'transparent'"},
              "fill": {"signal": "datum.value === 'VIRGO/SPM data' ? 'transparent' : (datum.value === 'SOAP w/ MM' ? '#ff1a1a' : '#1a1acc')"},
              "opacity": {"value": 1}
            }}}}}
      }
    },
    {
      "mark": {"type": "rule", "color": "black", "opacity": 0.45, "strokeDash": [8, 5], "strokeWidth": 2},
      "encoding": {"y": {"datum": 0, "type": "quantitative", "axis": null}}
    },
    {
      "data": {"name": "mm"},
      "mark": {"type": "circle", "size": 46, "opacity": 0.85, "clip": true},
      "encoding": {
        "x": {"field": "t", "type": "quantitative", "axis": {"orient": "top", "labels": false, "title": null, "values": [2015.5, 2016, 2016.5, 2017, 2017.5, 2018, 2018.5]}},
        "y": {"field": "f", "type": "quantitative", "axis": {"orient": "right", "labels": false, "title": null, "values": [-1500, -1000, -500, 0, 500, 1000]}},
        "color": {"datum": "SOAP w/ MM"}
      }
    },
    {
      "data": {"name": "deb"},
      "mark": {"type": "circle", "size": 46, "opacity": 0.85, "clip": true},
      "encoding": {
        "x": {"field": "t", "type": "quantitative", "axis": null},
        "y": {"field": "f", "type": "quantitative", "axis": null},
        "color": {"datum": "SOAP w/ Debrecen"}
      }
    }
  ]
}
